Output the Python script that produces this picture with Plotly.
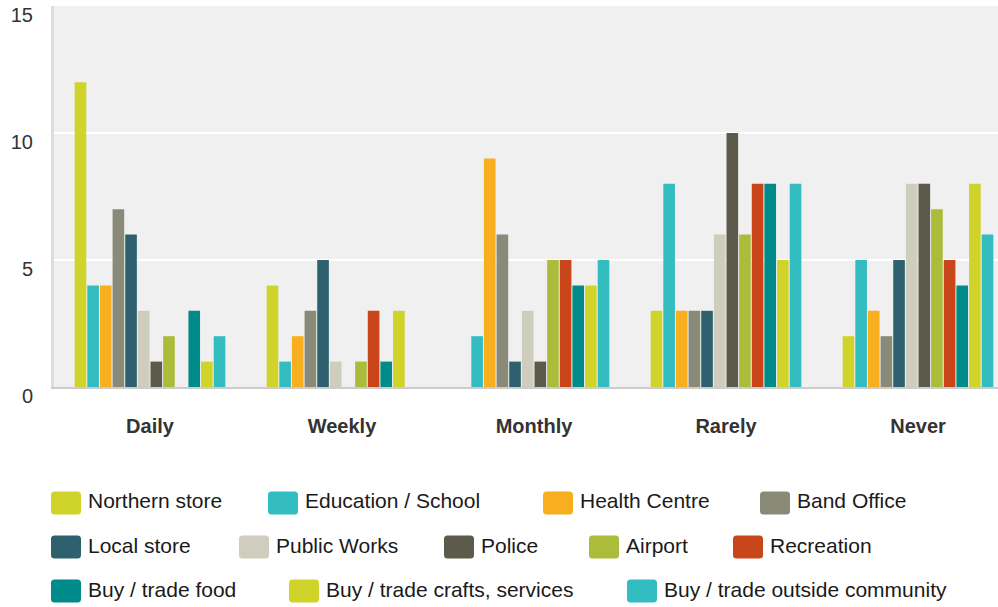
import plotly.graph_objects as go

categories = ["Daily", "Weekly", "Monthly", "Rarely", "Never"]

series_names = [
    "Northern store", "Education / School", "Health Centre", "Band Office",
    "Local store", "Public Works", "Police", "Airport", "Recreation",
    "Buy / trade food", "Buy / trade crafts, services", "Buy / trade outside community",
]

northern_store = [12, 4, 0, 3, 2]
education_school = [4, 1, 2, 8, 5]
health_centre = [4, 2, 9, 3, 3]
band_office = [7, 3, 6, 3, 2]
local_store = [6, 5, 1, 3, 5]
public_works = [3, 1, 3, 6, 8]
police = [1, 0, 1, 10, 8]
airport = [2, 1, 5, 6, 7]
recreation = [0, 3, 5, 8, 5]
buy_trade_food = [3, 1, 4, 8, 4]
buy_trade_crafts = [1, 3, 4, 5, 8]
buy_trade_outside = [2, 0, 5, 8, 6]

series_values = [
    northern_store, education_school, health_centre, band_office,
    local_store, public_works, police, airport, recreation,
    buy_trade_food, buy_trade_crafts, buy_trade_outside,
]

colors = [
    "#D0D42A", "#33BDC0", "#F8AF1F", "#8A8A78",
    "#2E606D", "#CFCDBE", "#5C5A4A", "#ABBB3A", "#C9461B",
    "#008A8A", "#D0D42A", "#33BDC0",
]

y_ticks = [0, 5, 10, 15]

# ---- layout constants (pixels) ----
W, H = 998, 607
ML, MR, MT, MB = 54, 0, 6, 220
PW = W - ML - MR
PH = H - MT - MB
CAT_PX = 192.0
x_end = -0.5 + PW / CAT_PX

FONT = "Liberation Sans, Arial, sans-serif"

fig = go.Figure()
for name, vals, col in zip(series_names, series_values, colors):
    fig.add_trace(go.Bar(
        x=categories, y=vals, name=name,
        marker=dict(color=col, line=dict(width=0)),
        showlegend=False,
    ))

# ---- custom legend (rounded swatches + text) ----
legend_rows = [
    [(0, 51), (1, 268), (2, 543), (3, 760)],
    [(4, 51), (5, 239), (6, 444), (7, 589), (8, 733)],
    [(9, 51), (10, 289), (11, 627)],
]
row_y = [503, 547, 591]
sw_w, sw_h, r = 30, 23, 3.5
hw, hh = sw_w / 2, sw_h / 2
swatch_path = (
    f"M {-hw + r},{-hh} L {hw - r},{-hh} Q {hw},{-hh} {hw},{-hh + r} "
    f"L {hw},{hh - r} Q {hw},{hh} {hw - r},{hh} L {-hw + r},{hh} "
    f"Q {-hw},{hh} {-hw},{hh - r} L {-hw},{-hh + r} Q {-hw},{-hh} {-hw + r},{-hh} Z"
)

def px_to_paper_x(px):
    return (px - ML) / PW

def py_to_paper_y(py):
    return (H - MB - py) / PH

shapes = []
annotations = []
for ry, row in zip(row_y, legend_rows):
    for idx, sx in row:
        shapes.append(dict(
            type="path", xref="paper", yref="paper",
            xsizemode="pixel", ysizemode="pixel",
            xanchor=px_to_paper_x(sx + hw), yanchor=py_to_paper_y(ry),
            path=swatch_path, fillcolor=colors[idx], line=dict(width=0),
            layer="above",
        ))
        annotations.append(dict(
            x=px_to_paper_x(sx + 35), y=py_to_paper_y(ry - 2),
            xref="paper", yref="paper", xanchor="left", yanchor="middle",
            text=series_names[idx], showarrow=False,
            font=dict(family=FONT, size=21, color="#1a1a1a"),
        ))

fig.update_layout(
    width=W, height=H,
    margin=dict(l=ML, r=MR, t=MT, b=MB, pad=0, autoexpand=False),
    paper_bgcolor="white", plot_bgcolor="#F0F0F0",
    barmode="group", bargap=0.21, bargroupgap=0.08,
    showlegend=False,
    shapes=shapes, annotations=annotations,
    font=dict(family=FONT, size=20, color="#333333"),
    xaxis=dict(
        range=[-0.5, x_end], showgrid=False, showline=True,
        linecolor="#CCCCCC", linewidth=2, ticks="",
        tickfont=dict(family=FONT, size=20, color="#333333", weight="bold"),
        ticklabelstandoff=20, fixedrange=True, automargin=False,
    ),
    yaxis=dict(
        range=[0, 15], tickvals=y_ticks, showgrid=True,
        gridcolor="white", gridwidth=2, zeroline=False,
        showline=True, linecolor="#DDDDDD", linewidth=3, ticks="",
        tickfont=dict(family=FONT, size=20, color="#333333"),
        ticklabelstandoff=14, ticklabelshift=9, ticklabeloverflow="allow",
        fixedrange=True, automargin=False,
    ),
)

fig.write_html(
    "out.html",
    config={"displayModeBar": False},
    post_script="document.body.style.margin='0';document.body.style.overflow='hidden';",
)
